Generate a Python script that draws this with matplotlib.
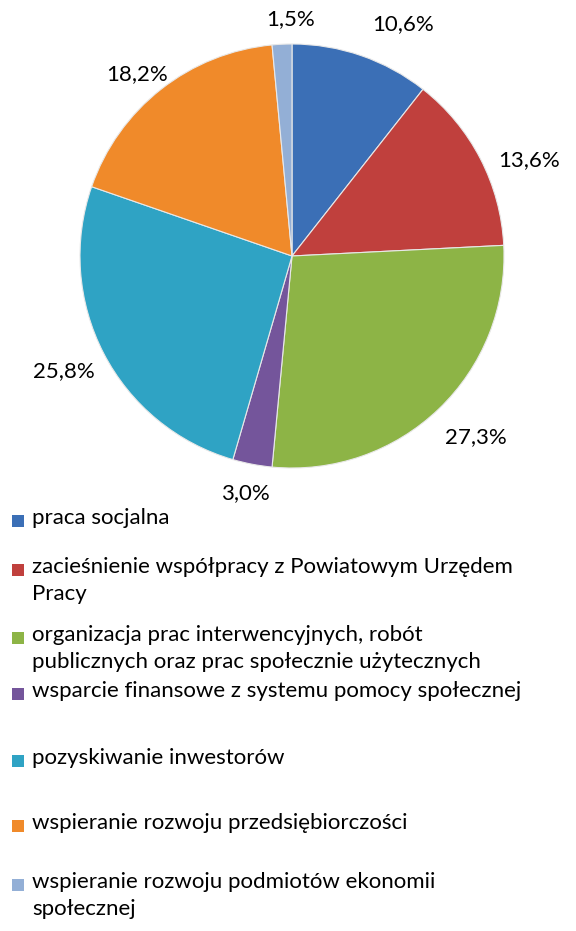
import matplotlib.pyplot as plt
from matplotlib.patches import Rectangle

labels = [
    "praca socjalna",
    "zacieśnienie współpracy z Powiatowym Urzędem\nPracy",
    "organizacja prac interwencyjnych, robót\npublicznych oraz prac społecznie użytecznych",
    "wsparcie finansowe z systemu pomocy społecznej",
    "pozyskiwanie inwestorów",
    "wspieranie rozwoju przedsiębiorczości",
    "wspieranie rozwoju podmiotów ekonomii\nspołecznej",
]
values = [10.6, 13.6, 27.3, 3.0, 25.8, 18.2, 1.5]
colors = ["#3b6fb6", "#c0403d", "#8db446", "#74559b", "#2fa3c4", "#f08a2a", "#93afd6"]

# legend rows (first-line centre, px from top)
legend_y = [521, 570, 638, 694, 761, 826, 885]

W, H = 576, 931
plt.rcParams['font.family'] = ['Lato', 'DejaVu Sans']

fig = plt.figure(figsize=(W / 100, H / 100), dpi=100)
cx, cy, r = 292, 256, 212
ax = fig.add_axes([(cx - r) / W, 1 - (cy + r) / H, 2 * r / W, 2 * r / H])

wedges, texts, autotexts = ax.pie(
    values, colors=colors, startangle=90, counterclock=False,
    autopct=lambda p: ("%.1f%%" % p).replace(".", ","), pctdistance=1.18,
    wedgeprops=dict(edgecolor="#e8e8e8", linewidth=0.8),
    textprops=dict(fontsize=16, color="black"))
# nudge a few labels the way Excel places them
nudges = [(0.14, -0.02), (0.07, -0.09), (0.05, 0.0), (0.0, 0.04),
          (-0.03, 0.0), (0.0, -0.07), (0.05, -0.06)]
for t, (dx, dy) in zip(autotexts, nudges):
    x, y = t.get_position()
    t.set_position((x + dx, y + dy))
ax.set_xlim(-1, 1)
ax.set_ylim(-1, 1)
ax.set_aspect("equal")
ax.axis("off")

for lab, col, y in zip(labels, colors, legend_y):
    fig.patches.append(Rectangle((12 / W, 1 - (y + 6) / H), 12 / W, 12 / H,
                                 transform=fig.transFigure, facecolor=col,
                                 edgecolor="none"))
    fig.text(32 / W, 1 - (y - 13) / H, lab, fontsize=16, va="top", ha="left",
             linespacing=1.45)

fig.savefig("out.png", dpi=100)
